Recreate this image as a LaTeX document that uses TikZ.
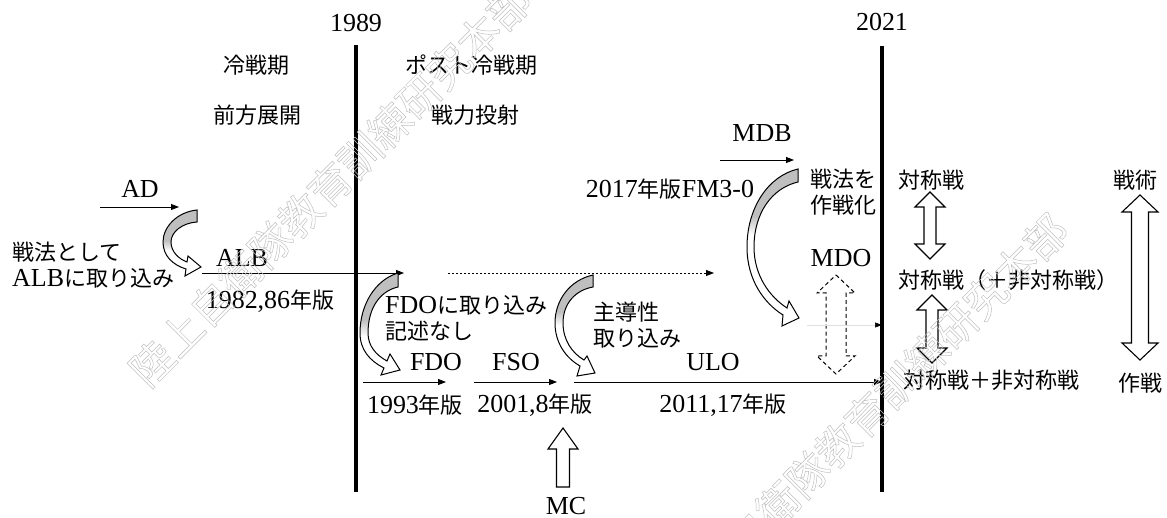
\documentclass[tikz,border=0pt]{standalone}
\usepackage{fontspec}
\setmainfont{Liberation Serif}[Scale=1.18]
\newfontfamily\jp{Noto Sans CJK JP}
\usetikzlibrary{arrows.meta}
\pgfdeclareverticalshading{shA}{100bp}{color(0bp)=(white); color(44bp)=(white); color(52bp)=(black!25); color(100bp)=(black!25)}
\pgfdeclareverticalshading{shC}{100bp}{color(0bp)=(white); color(50bp)=(white); color(57bp)=(black!25); color(100bp)=(black!25)}
\pgfdeclareverticalshading{shD}{100bp}{color(0bp)=(white); color(54bp)=(white); color(60bp)=(black!25); color(100bp)=(black!25)}
\newcommand{\fs}{\fontsize{22}{26}\selectfont}
\newcommand{\vdbl}[7][]{%
  \draw[blkar,#1] (#2,#3) -- ({#2+#5},{#3+#7}) -- ({#2+#6},{#3+#7}) -- ({#2+#6},{#4-#7})
    -- ({#2+#5},{#4-#7}) -- (#2,#4) -- ({#2-#5},{#4-#7}) -- ({#2-#6},{#4-#7})
    -- ({#2-#6},{#3+#7}) -- ({#2-#5},{#3+#7}) -- cycle;}
\newcommand{\outl}[1]{\special{pdf:literal direct 1 Tr 0.5 w}#1\special{pdf:literal direct 0 Tr 1 w}}
\begin{document}
\begin{tikzpicture}[x=1pt,y=-1pt,
  lbl/.style={inner sep=0pt, font=\fs},
  wm/.style={inner sep=0pt, text=black!25, font=\jp\fontsize{42}{42}\selectfont},
  tl/.style={-{Triangle[length=8pt,width=6pt]}, line width=0.9pt},
  vline/.style={line width=3.2pt},
  blkar/.style={draw, line width=1.1pt, fill=white, line join=miter},
  carr/.style={draw, line width=1pt, line join=miter}]
\useasboundingbox (0,0) rectangle (1167,518);

% year labels and divider lines
\node[lbl] (y1989) at (356,23) {1989};
\node[lbl] (y2021) at (882,22) {2021};
\coordinate (l1a) at (356,45); \coordinate (l1b) at (356,492);
\coordinate (l2a) at (882,46); \coordinate (l2b) at (882,492);
\draw[vline] (l1a) -- (l1b);
\draw[vline] (l2a) -- (l2b);

% period labels
\node[lbl] (cw) at (256,65) {\jp 冷戦期};
\node[lbl] (fd) at (257,115) {\jp 前方展開};
\node[lbl] (pcw) at (471,65) {\jp ポスト冷戦期};
\node[lbl] (pp) at (475,115) {\jp 戦力投射};

% left part
\node[lbl] (ad) at (140,189) {AD};
\coordinate (adS) at (100,207); \coordinate (adE) at (179,207);
\draw[tl] (adS) -- (adE);
\node[lbl, align=left, anchor=west] (incl) at (12,265) {{\jp 戦法として}\\ALB{\jp に取り込み}};
\node[lbl] (alb) at (242,258) {ALB};
\coordinate (albS) at (202,273); \coordinate (albE) at (404,273);
\draw[tl] (albS) -- (albE);
\node[lbl] (alby) at (270,301) {1982,86{\jp 年版}};

% curved arrow A (AD -> ALB)
\shadedraw[shading=shA, carr] (197,210) .. controls (177,212) and (163,227) .. (163,242)
  .. controls (163,256) and (173,265) .. (186,269)
  -- (185,276) -- (201,267) -- (188,256) -- (187,262)
  .. controls (179,259) and (171,252) .. (171,242)
  .. controls (171,232) and (182,223) .. (197,222) -- cycle;

% post cold war
\node[lbl, align=left, anchor=west] (fdoin) at (385,318) {FDO{\jp に取り込み}\\{\jp 記述なし}};
\coordinate (dotS) at (448,273); \coordinate (dotE) at (714,273);
\draw[tl, line width=0.8pt, dash pattern=on 2pt off 2pt] (dotS) -- (dotE);

% curved arrow B
\shadedraw[shading=shA, carr] (398,273) .. controls (375,280) and (360,305) .. (360,333)
  .. controls (360,350) and (370,361) .. (384,368)
  -- (381,375) -- (400,370) -- (390,354) -- (387,361)
  .. controls (376,355) and (368,346) .. (368,333)
  .. controls (368,308) and (380,291) .. (398,287) -- cycle;

\node[lbl] (fdo) at (436,362) {FDO};
\coordinate (fdoS) at (363,382); \coordinate (fdoE) at (446,382);
\draw[tl] (fdoS) -- (fdoE);
\node[lbl] (fdoy) at (415,405) {1993{\jp 年版}};

\node[lbl] (fso) at (516,362) {FSO};
\coordinate (fsoS) at (474,382); \coordinate (fsoE) at (557,382);
\draw[tl] (fsoS) -- (fsoE);
\node[lbl] (fsoy) at (535,405) {2001,8{\jp 年版}};

% curved arrow C
\shadedraw[shading=shC, carr] (593,275) .. controls (570,280) and (555,300) .. (555,323)
  .. controls (555,343) and (566,358) .. (580,366)
  -- (577,376) -- (595,373) -- (587,356) -- (584,360)
  .. controls (572,353) and (563,340) .. (563,323)
  .. controls (563,303) and (576,290) .. (593,287) -- cycle;
\node[lbl, align=left, anchor=west] (init) at (593,325) {{\jp 主導性}\\{\jp 取り込み}};

\node[lbl] (ulo) at (713,362) {ULO};
\coordinate (uloS) at (574,382); \coordinate (uloE) at (882,382);
\draw[tl] (uloS) -- (uloE);
\node[lbl] (uloy) at (723,405) {2011,17{\jp 年版}};

% MC
\draw[blkar] (563,428) -- (578,449) -- (569.5,449) -- (569.5,487) -- (556.5,487)
  -- (556.5,449) -- (548,449) -- cycle;
\node[lbl] (mc) at (566,506) {MC};

% MDB
\node[lbl] (mdb) at (762,133) {MDB};
\coordinate (mdbS) at (720,160); \coordinate (mdbE) at (794,160);
\draw[tl] (mdbS) -- (mdbE);
\node[lbl] (fm) at (670,189) {2017{\jp 年版}FM3-0};
\node[lbl, align=left, anchor=west] (opz) at (810,192) {{\jp 戦法を}\\{\jp 作戦化}};

% curved arrow D
\shadedraw[shading=shD, carr] (798,169) .. controls (768,176) and (747,208) .. (747,247)
  .. controls (747,280) and (764,303) .. (783,315)
  -- (782,326) -- (799,318) -- (789,301) -- (787,308)
  .. controls (770,297) and (754,276) .. (754,247)
  .. controls (754,213) and (772,188) .. (798,182) -- cycle;

% MDO
\node[lbl] (mdo) at (841,258) {MDO};
\vdbl[dash pattern=on 4pt off 3pt, line width=1pt]{836}{275}{374}{19}{10}{18}
\coordinate (fS) at (807,325); \coordinate (fE) at (882,325);
\draw[-{Triangle[length=7pt,width=5pt,black]}, line width=0.6pt, draw=black!12] (fS) -- (fE);

% right side
\node[lbl, anchor=west] (s1) at (898,180) {\jp 対称戦};
\node[lbl, anchor=west] (s2) at (898,280) {\jp 対称戦（＋非対称戦）};
\node[lbl, anchor=west] (s3) at (903,380) {\jp 対称戦＋非対称戦};
\vdbl{930}{192}{259}{15}{6}{15}
\vdbl{932}{295}{363}{15}{6}{15}
\node[lbl] (tac) at (1135,180) {\jp 戦術};
\node[lbl] (opn) at (1140,383) {\jp 作戦};
\vdbl{1140}{195}{360}{18}{8.5}{17}

% watermarks
\node[wm, rotate=45] (wm1) at (330,185) {\outl{陸上自衛隊教育訓練研究本部}};
\node[wm, rotate=45] (wm2) at (867,415) {\outl{陸上自衛隊教育訓練研究本部}};
\end{tikzpicture}
\end{document}
